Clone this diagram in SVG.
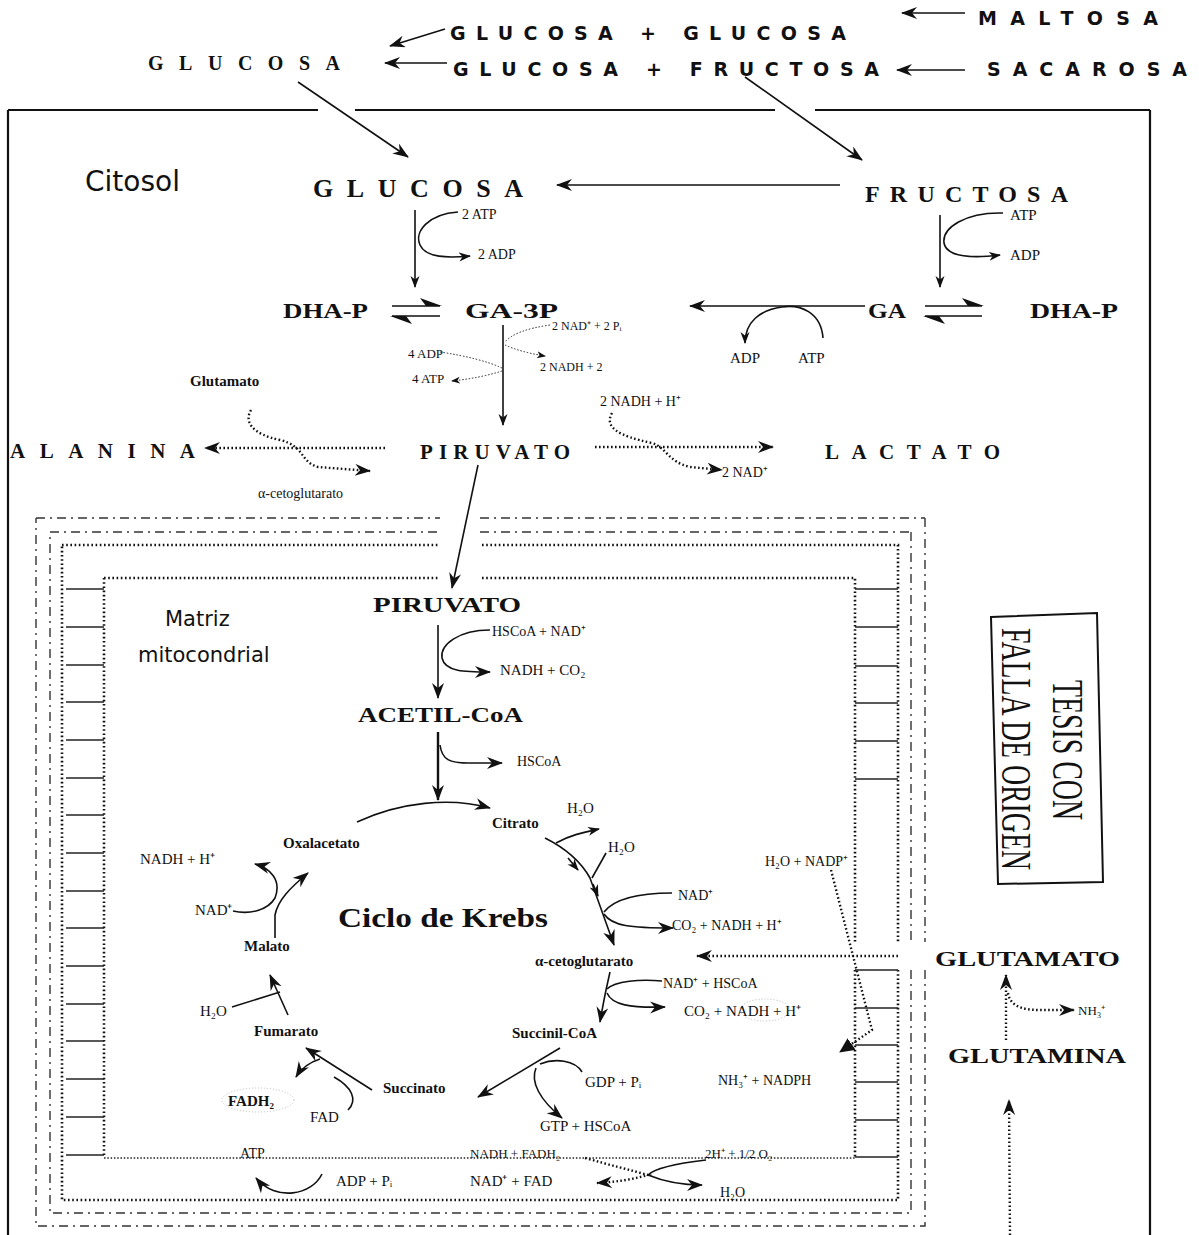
<svg xmlns="http://www.w3.org/2000/svg" width="1199" height="1235" viewBox="0 0 1199 1235">
<style>
text{fill:#111;}
.cm{font-family:"DejaVu Sans",sans-serif;font-weight:bold;font-size:19px;}
.lbl{font-family:"DejaVu Sans",sans-serif;}
.sb{font-family:"Liberation Serif",serif;font-weight:bold;}
.s{font-family:"Liberation Serif",serif;}
.ln{fill:none;stroke:#111;stroke-width:1.6;}
.th{fill:none;stroke:#111;stroke-width:2.4;}
.dt{fill:none;stroke:#111;stroke-width:2.4;stroke-dasharray:1.6 2.4;}
.dtt{fill:none;stroke:#222;stroke-width:1;stroke-dasharray:1.5 1.8;}
.dd{fill:none;stroke:#333;stroke-width:1.4;stroke-dasharray:9 5 2 5;}
.mb{fill:none;stroke:#111;stroke-width:2.6;stroke-dasharray:1.6 2.6;}
.cr{stroke:#222;stroke-width:1.3;}
.bd{fill:none;stroke:#111;stroke-width:2.2;}
</style>
<defs>
<marker id="ah" markerUnits="userSpaceOnUse" markerWidth="18" markerHeight="14" refX="15" refY="6" orient="auto"><path d="M0,0 L16,6 L0,12 L5,6 z" fill="#111"/></marker>
<marker id="as" markerUnits="userSpaceOnUse" markerWidth="14" markerHeight="10" refX="11" refY="4.5" orient="auto"><path d="M0,0 L12,4.5 L0,9 L3.5,4.5 z" fill="#111"/></marker>
<marker id="at" markerUnits="userSpaceOnUse" markerWidth="10" markerHeight="8" refX="8" refY="3.5" orient="auto"><path d="M0,0 L9,3.5 L0,7 L2.5,3.5 z" fill="#111"/></marker>
<marker id="tri" markerUnits="userSpaceOnUse" markerWidth="16" markerHeight="14" refX="14" refY="7" orient="auto"><path d="M0,0 L15,7 L0,14 z" fill="#111"/></marker>
</defs>

<!-- cell border -->
<g id="cell-membrane">
<path class="bd" d="M8 110 L318 110 M355 110 L775 110 M815 110 L1150 110"/>
<path class="bd" d="M8 110 L8 1235 M1150 110 L1150 1235"/>
</g>

<!-- mitochondrion -->
<g id="mitochondrion">
<path class="dd" d="M36 518 L440 518 M480 518 L925 518 M925 518 L925 942 M925 970 L925 1226 L36 1226 L36 518"/>
<path class="dd" d="M50 532 L440 532 M480 532 L911 532 M911 532 L911 942 M911 970 L911 1213 L50 1213 L50 532"/>
<path class="mb" d="M62 545 L438 545 M482 545 L898 545 L898 942 M898 970 L898 1200 L62 1200 L62 545"/>
<path class="mb" d="M104 578 L438 578 M482 578 L855 578 L855 942 M855 970 L855 1157 M104 578 L104 1157"/>
<path class="dtt" style="stroke-width:1.6" d="M104 1158 L855 1158"/>
<g class="cr">
<line x1="66" y1="589" x2="104" y2="589"/><line x1="66" y1="627" x2="104" y2="627"/><line x1="66" y1="665" x2="104" y2="665"/><line x1="66" y1="702" x2="104" y2="702"/><line x1="66" y1="740" x2="104" y2="740"/><line x1="66" y1="778" x2="104" y2="778"/><line x1="66" y1="815" x2="104" y2="815"/><line x1="66" y1="853" x2="104" y2="853"/><line x1="66" y1="891" x2="104" y2="891"/><line x1="66" y1="928" x2="104" y2="928"/><line x1="66" y1="966" x2="104" y2="966"/><line x1="66" y1="1004" x2="104" y2="1004"/><line x1="66" y1="1041" x2="104" y2="1041"/><line x1="66" y1="1079" x2="104" y2="1079"/><line x1="66" y1="1117" x2="104" y2="1117"/><line x1="66" y1="1155" x2="104" y2="1155"/>
<line x1="855" y1="589" x2="898" y2="589"/><line x1="855" y1="627" x2="898" y2="627"/><line x1="855" y1="666" x2="898" y2="666"/><line x1="855" y1="703" x2="898" y2="703"/><line x1="855" y1="741" x2="898" y2="741"/><line x1="855" y1="779" x2="898" y2="779"/>
<line x1="855" y1="970" x2="898" y2="970"/><line x1="855" y1="1008" x2="898" y2="1008"/><line x1="855" y1="1045" x2="898" y2="1045"/><line x1="855" y1="1082" x2="898" y2="1082"/><line x1="855" y1="1120" x2="898" y2="1120"/><line x1="855" y1="1157" x2="898" y2="1157"/>
</g>
</g>

<!-- connectors -->
<g id="connectors">
<path class="ln" d="M965 13 L902 13" marker-end="url(#ah)"/>
<path class="ln" d="M445 29 L390 46" marker-end="url(#ah)"/>
<path class="ln" d="M447 63 L385 63" marker-end="url(#ah)"/>
<path class="ln" d="M965 70 L897 70" marker-end="url(#ah)"/>
<path class="ln" d="M298 82 L408 157" marker-end="url(#ah)"/>
<path class="ln" d="M745 77 L862 160" marker-end="url(#ah)"/>
<path class="ln" d="M840 185 L557 185" marker-end="url(#ah)"/>
<path class="ln" d="M415 210 L415 287" marker-end="url(#as)"/>
<path class="ln" d="M458 212 C428 214 414 232 420 245 C426 258 448 258 470 256" marker-end="url(#as)"/>
<path class="ln" d="M940 215 L940 287" marker-end="url(#as)"/>
<path class="ln" d="M1003 213 C965 212 942 228 944 243 C947 258 975 258 1000 255" marker-end="url(#as)"/>
<path class="ln" d="M392 306 L440 306 M392 316 L440 316"/>
<path d="M420 298 L442 306 L426 306 z M412 324 L390 316 L406 316 z" fill="#111"/>
<path class="ln" d="M865 306 L690 306" marker-end="url(#ah)"/>
<path class="ln" d="M823 338 C821 312 800 304 782 307 C760 310 745 322 745 343" marker-end="url(#as)"/>
<path class="ln" d="M925 306 L982 306 M925 316 L982 316"/>
<path d="M962 298 L984 306 L968 306 z M945 324 L923 316 L939 316 z" fill="#111"/>
<path class="ln" d="M503 325 L503 425" marker-end="url(#as)"/>
<path class="dtt" d="M550 325 Q515 330 505 342"/>
<path class="dtt" d="M505 345 Q520 352 545 356" marker-end="url(#at)"/>
<path class="dtt" d="M440 352 Q480 358 502 368"/>
<path class="dtt" d="M502 371 Q480 378 452 381" marker-end="url(#at)"/>
<path class="dt" d="M385 448 L205 448" marker-end="url(#ah)"/>
<path class="dt" d="M251 410 C244 422 252 434 280 440 C305 446 300 462 318 467 L370 471" marker-end="url(#ah)"/>
<path class="dt" d="M595 447 L773 447" marker-end="url(#ah)"/>
<path class="dt" d="M612 413 C604 427 618 436 652 443 C666 447 668 462 690 467 L722 470" marker-end="url(#ah)"/>
<path class="ln" d="M478 465 L452 588" marker-end="url(#ah)"/>
<path class="ln" d="M438 625 L438 698" marker-end="url(#ah)"/>
<path class="ln" d="M490 630 C458 630 440 645 442 658 C445 672 465 672 490 672" marker-end="url(#ah)"/>
<path class="th" d="M438 732 L438 800" marker-end="url(#ah)"/>
<path class="ln" d="M440 745 C442 760 450 763 468 763 L502 763" marker-end="url(#ah)"/>
<path class="ln" d="M357 822 C400 802 450 797 490 808" marker-end="url(#ah)"/>
<path class="ln" d="M545 838 C565 848 580 860 590 878 L614 945" marker-end="url(#ah)"/>
<path class="ln" d="M568 858 L578 870" marker-end="url(#as)"/>
<path class="ln" d="M593 884 L598 896" marker-end="url(#as)"/>
<path class="ln" d="M556 843 C570 835 585 832 599 829" marker-end="url(#as)"/>
<path class="ln" d="M606 853 L592 878"/>
<path class="ln" d="M672 893 C640 893 615 898 604 912"/>
<path class="ln" d="M604 914 C612 926 630 928 673 928" marker-end="url(#ah)"/>
<path class="dt" d="M898 956 L697 956" marker-end="url(#ah)"/>
<path class="ln" d="M610 972 L606 990 C604 1000 602 1010 600 1022" marker-end="url(#ah)"/>
<path class="ln" d="M662 981 C640 979 615 981 607 989"/>
<path class="ln" d="M607 993 C612 1005 630 1008 665 1007" marker-end="url(#ah)"/>
<path class="ln" d="M560 1048 L478 1097" marker-end="url(#ah)"/>
<path class="ln" d="M582 1072 C575 1060 555 1058 540 1064"/>
<path class="ln" d="M536 1068 C530 1082 540 1100 562 1118" marker-end="url(#ah)"/>
<path class="ln" d="M372 1090 L306 1048" marker-end="url(#ah)"/>
<path class="ln" d="M348 1110 C358 1100 352 1087 334 1077"/>
<path class="ln" d="M320 1059 Q304 1064 296 1077" marker-end="url(#ah)"/>
<path class="ln" d="M288 1015 L270 975" marker-end="url(#ah)"/>
<path class="ln" d="M232 1007 L280 992"/>
<path class="ln" d="M275 938 L275 915 C278 900 290 888 308 873" marker-end="url(#ah)"/>
<path class="ln" d="M233 911 C250 915 268 910 275 898 C282 880 270 868 255 864" marker-end="url(#ah)"/>
<path class="ln" d="M322 1174 C312 1195 276 1202 256 1178" marker-end="url(#ah)"/>
<path class="dt" d="M585 1158 C610 1165 630 1170 648 1175 C630 1180 615 1182 597 1183" marker-end="url(#ah)"/>
<path class="ln" d="M706 1160 C680 1163 655 1168 648 1175 C665 1182 685 1185 702 1185" marker-end="url(#ah)"/>
<path class="dt" d="M831 870 L872 1030 L840 1052" marker-end="url(#tri)"/>
<path class="dt" d="M1006 1040 L1006 975" marker-end="url(#ah)"/>
<path class="dt" d="M1008 993 C1010 1005 1020 1010 1040 1010 L1074 1010" marker-end="url(#ah)"/>
<path class="dt" d="M1010 1235 L1009 1100" marker-end="url(#ah)"/>
</g>

<!-- top sugars -->
<g id="maltosa"><text class="cm" x="978" y="25" textLength="180" lengthAdjust="spacing">MALTOSA</text></g>
<g id="glucosa-glucosa"><text class="cm" x="450" y="40" textLength="396" lengthAdjust="spacing">GLUCOSA + GLUCOSA</text></g>
<g id="glucosa-fructosa"><text class="cm" x="453" y="76" textLength="426" lengthAdjust="spacing">GLUCOSA + FRUCTOSA</text></g>
<g id="sacarosa"><text class="cm" x="987" y="76" textLength="200" lengthAdjust="spacing">SACAROSA</text></g>
<g id="glucosa-ext"><text class="sb" x="148" y="70" font-size="20" textLength="192" lengthAdjust="spacing">GLUCOSA</text></g>

<g id="citosol-label"><text class="lbl" x="85" y="191" font-size="28">Citosol</text></g>
<g id="glucosa"><text class="sb" x="313" y="197" font-size="26" textLength="210" lengthAdjust="spacing">GLUCOSA</text></g>
<g id="fructosa"><text class="sb" x="865" y="202" font-size="24" textLength="203" lengthAdjust="spacing">FRUCTOSA</text></g>
<g id="glc-cofactors"><text class="s" x="462" y="219" font-size="14">2 ATP</text><text class="s" x="478" y="259" font-size="14">2 ADP</text></g>
<g id="fru-cofactors"><text class="s" x="1010" y="220" font-size="15">ATP</text><text class="s" x="1010" y="260" font-size="15">ADP</text></g>
<g id="dhap-left"><text class="sb" x="283" y="318" font-size="21" textLength="85" lengthAdjust="spacingAndGlyphs">DHA-P</text></g>
<g id="ga3p"><text class="sb" x="465" y="318" font-size="21" textLength="93" lengthAdjust="spacingAndGlyphs">GA-3P</text></g>
<g id="ga"><text class="sb" x="868" y="318" font-size="21" textLength="38" lengthAdjust="spacingAndGlyphs">GA</text></g>
<g id="dhap-right"><text class="sb" x="1030" y="318" font-size="21" textLength="88" lengthAdjust="spacingAndGlyphs">DHA-P</text></g>
<g id="ga-cofactors"><text class="s" x="730" y="363" font-size="15">ADP</text><text class="s" x="798" y="363" font-size="15">ATP</text></g>
<g id="ga3p-cofactors"><text class="s" x="552" y="330" font-size="12">2 NAD⁺ + 2 Pᵢ</text><text class="s" x="540" y="371" font-size="12">2 NADH + 2</text><text class="s" x="408" y="358" font-size="13">4 ADP</text><text class="s" x="412" y="383" font-size="13">4 ATP</text></g>
<g id="glutamato-c"><text class="sb" x="190" y="386" font-size="15">Glutamato</text></g>
<g id="alanina"><text class="sb" x="10" y="458" font-size="21" textLength="185" lengthAdjust="spacing">ALANINA</text></g>
<g id="acg-c"><text class="s" x="258" y="498" font-size="14">α-cetoglutarato</text></g>
<g id="piruvato"><text class="sb" x="420" y="459" font-size="21" textLength="150" lengthAdjust="spacing">PIRUVATO</text></g>
<g id="lact-cofactors"><text class="s" x="600" y="406" font-size="14">2 NADH + H⁺</text><text class="s" x="722" y="477" font-size="14">2 NAD⁺</text></g>
<g id="lactato"><text class="sb" x="825" y="459" font-size="21" textLength="175" lengthAdjust="spacing">LACTATO</text></g>

<g id="matriz-label"><text class="lbl" x="165" y="626" font-size="21">Matriz</text><text class="lbl" x="138" y="662" font-size="21">mitocondrial</text></g>
<g id="piruvato-m"><text class="sb" x="373" y="612" font-size="21" textLength="148" lengthAdjust="spacingAndGlyphs">PIRUVATO</text></g>
<g id="pdh-cofactors"><text class="s" x="492" y="636" font-size="14">HSCoA + NAD⁺</text><text class="s" x="500" y="675" font-size="15">NADH + CO₂</text></g>
<g id="acetilcoa"><text class="sb" x="358" y="722" font-size="21" textLength="165" lengthAdjust="spacingAndGlyphs">ACETIL-CoA</text></g>
<g id="hscoa"><text class="s" x="517" y="766" font-size="14">HSCoA</text></g>
<g id="citrato"><text class="sb" x="492" y="828" font-size="15">Citrato</text></g>
<g id="cit-h2o"><text class="s" x="567" y="813" font-size="15">H₂O</text><text class="s" x="608" y="852" font-size="15">H₂O</text></g>
<g id="oxalacetato"><text class="sb" x="283" y="848" font-size="15">Oxalacetato</text></g>
<g id="mal-cofactors"><text class="s" x="140" y="864" font-size="15">NADH + H⁺</text><text class="s" x="195" y="915" font-size="15">NAD⁺</text></g>
<g id="krebs-label"><text class="sb" x="338" y="927" font-size="27" textLength="210" lengthAdjust="spacingAndGlyphs">Ciclo de Krebs</text></g>
<g id="malato"><text class="sb" x="244" y="951" font-size="15">Malato</text></g>
<g id="idh-cofactors"><text class="s" x="678" y="900" font-size="14">NAD⁺</text><text class="s" x="672" y="930" font-size="14">CO₂ + NADH + H⁺</text></g>
<g id="acg-m"><text class="sb" x="535" y="966" font-size="15">α-cetoglutarato</text></g>
<g id="kgdh-cofactors"><text class="s" x="663" y="988" font-size="14">NAD⁺ + HSCoA</text><ellipse cx="765" cy="1010" rx="25" ry="11" fill="none" stroke="#bbb" stroke-dasharray="1 2"/><text class="s" x="684" y="1016" font-size="15">CO₂ + NADH + H⁺</text></g>
<g id="fum-h2o"><text class="s" x="200" y="1016" font-size="15">H₂O</text></g>
<g id="fumarato"><text class="sb" x="254" y="1036" font-size="15">Fumarato</text></g>
<g id="succinilcoa"><text class="sb" x="512" y="1038" font-size="15">Succinil-CoA</text></g>
<g id="scs-cofactors"><text class="s" x="585" y="1087" font-size="15">GDP + Pᵢ</text><text class="s" x="540" y="1131" font-size="15">GTP + HSCoA</text></g>
<g id="succinato"><text class="sb" x="383" y="1093" font-size="15">Succinato</text></g>
<g id="sdh-cofactors"><ellipse cx="258" cy="1100" rx="36" ry="12" fill="none" stroke="#bbb" stroke-dasharray="1 2"/><text class="sb" x="228" y="1106" font-size="15">FADH₂</text><text class="s" x="310" y="1122" font-size="15">FAD</text></g>
<g id="etc-row"><text class="s" x="240" y="1158" font-size="14">ATP</text><text class="s" x="470" y="1158" font-size="13">NADH + FADH₂</text><text class="s" x="705" y="1158" font-size="13">2H⁺ + 1/2 O₂</text></g>
<g id="etc-products"><text class="s" x="336" y="1186" font-size="15">ADP + Pᵢ</text><text class="s" x="470" y="1186" font-size="15">NAD⁺ + FAD</text><text class="s" x="720" y="1197" font-size="14">H₂O</text></g>
<g id="gdh-cofactors"><text class="s" x="765" y="866" font-size="14">H₂O + NADP⁺</text><text class="s" x="718" y="1085" font-size="14">NH₃⁺ + NADPH</text></g>
<g id="glutamato"><text class="sb" x="935" y="966" font-size="21" textLength="185" lengthAdjust="spacingAndGlyphs">GLUTAMATO</text></g>
<g id="nh3"><text class="s" x="1078" y="1015" font-size="13">NH₃⁺</text></g>
<g id="glutamina"><text class="sb" x="948" y="1063" font-size="21" textLength="178" lengthAdjust="spacingAndGlyphs">GLUTAMINA</text></g>

<g id="stamp">
<polygon points="991,617 1097,613 1103,882 998,884" fill="none" stroke="#111" stroke-width="2"/>
<text class="s" transform="translate(1053,680) rotate(90)" font-size="44" textLength="140" lengthAdjust="spacingAndGlyphs">TESIS CON</text>
<text class="s" transform="translate(1002,628) rotate(90)" font-size="42" textLength="242" lengthAdjust="spacingAndGlyphs">FALLA DE ORIGEN</text>
</g>
</svg>
